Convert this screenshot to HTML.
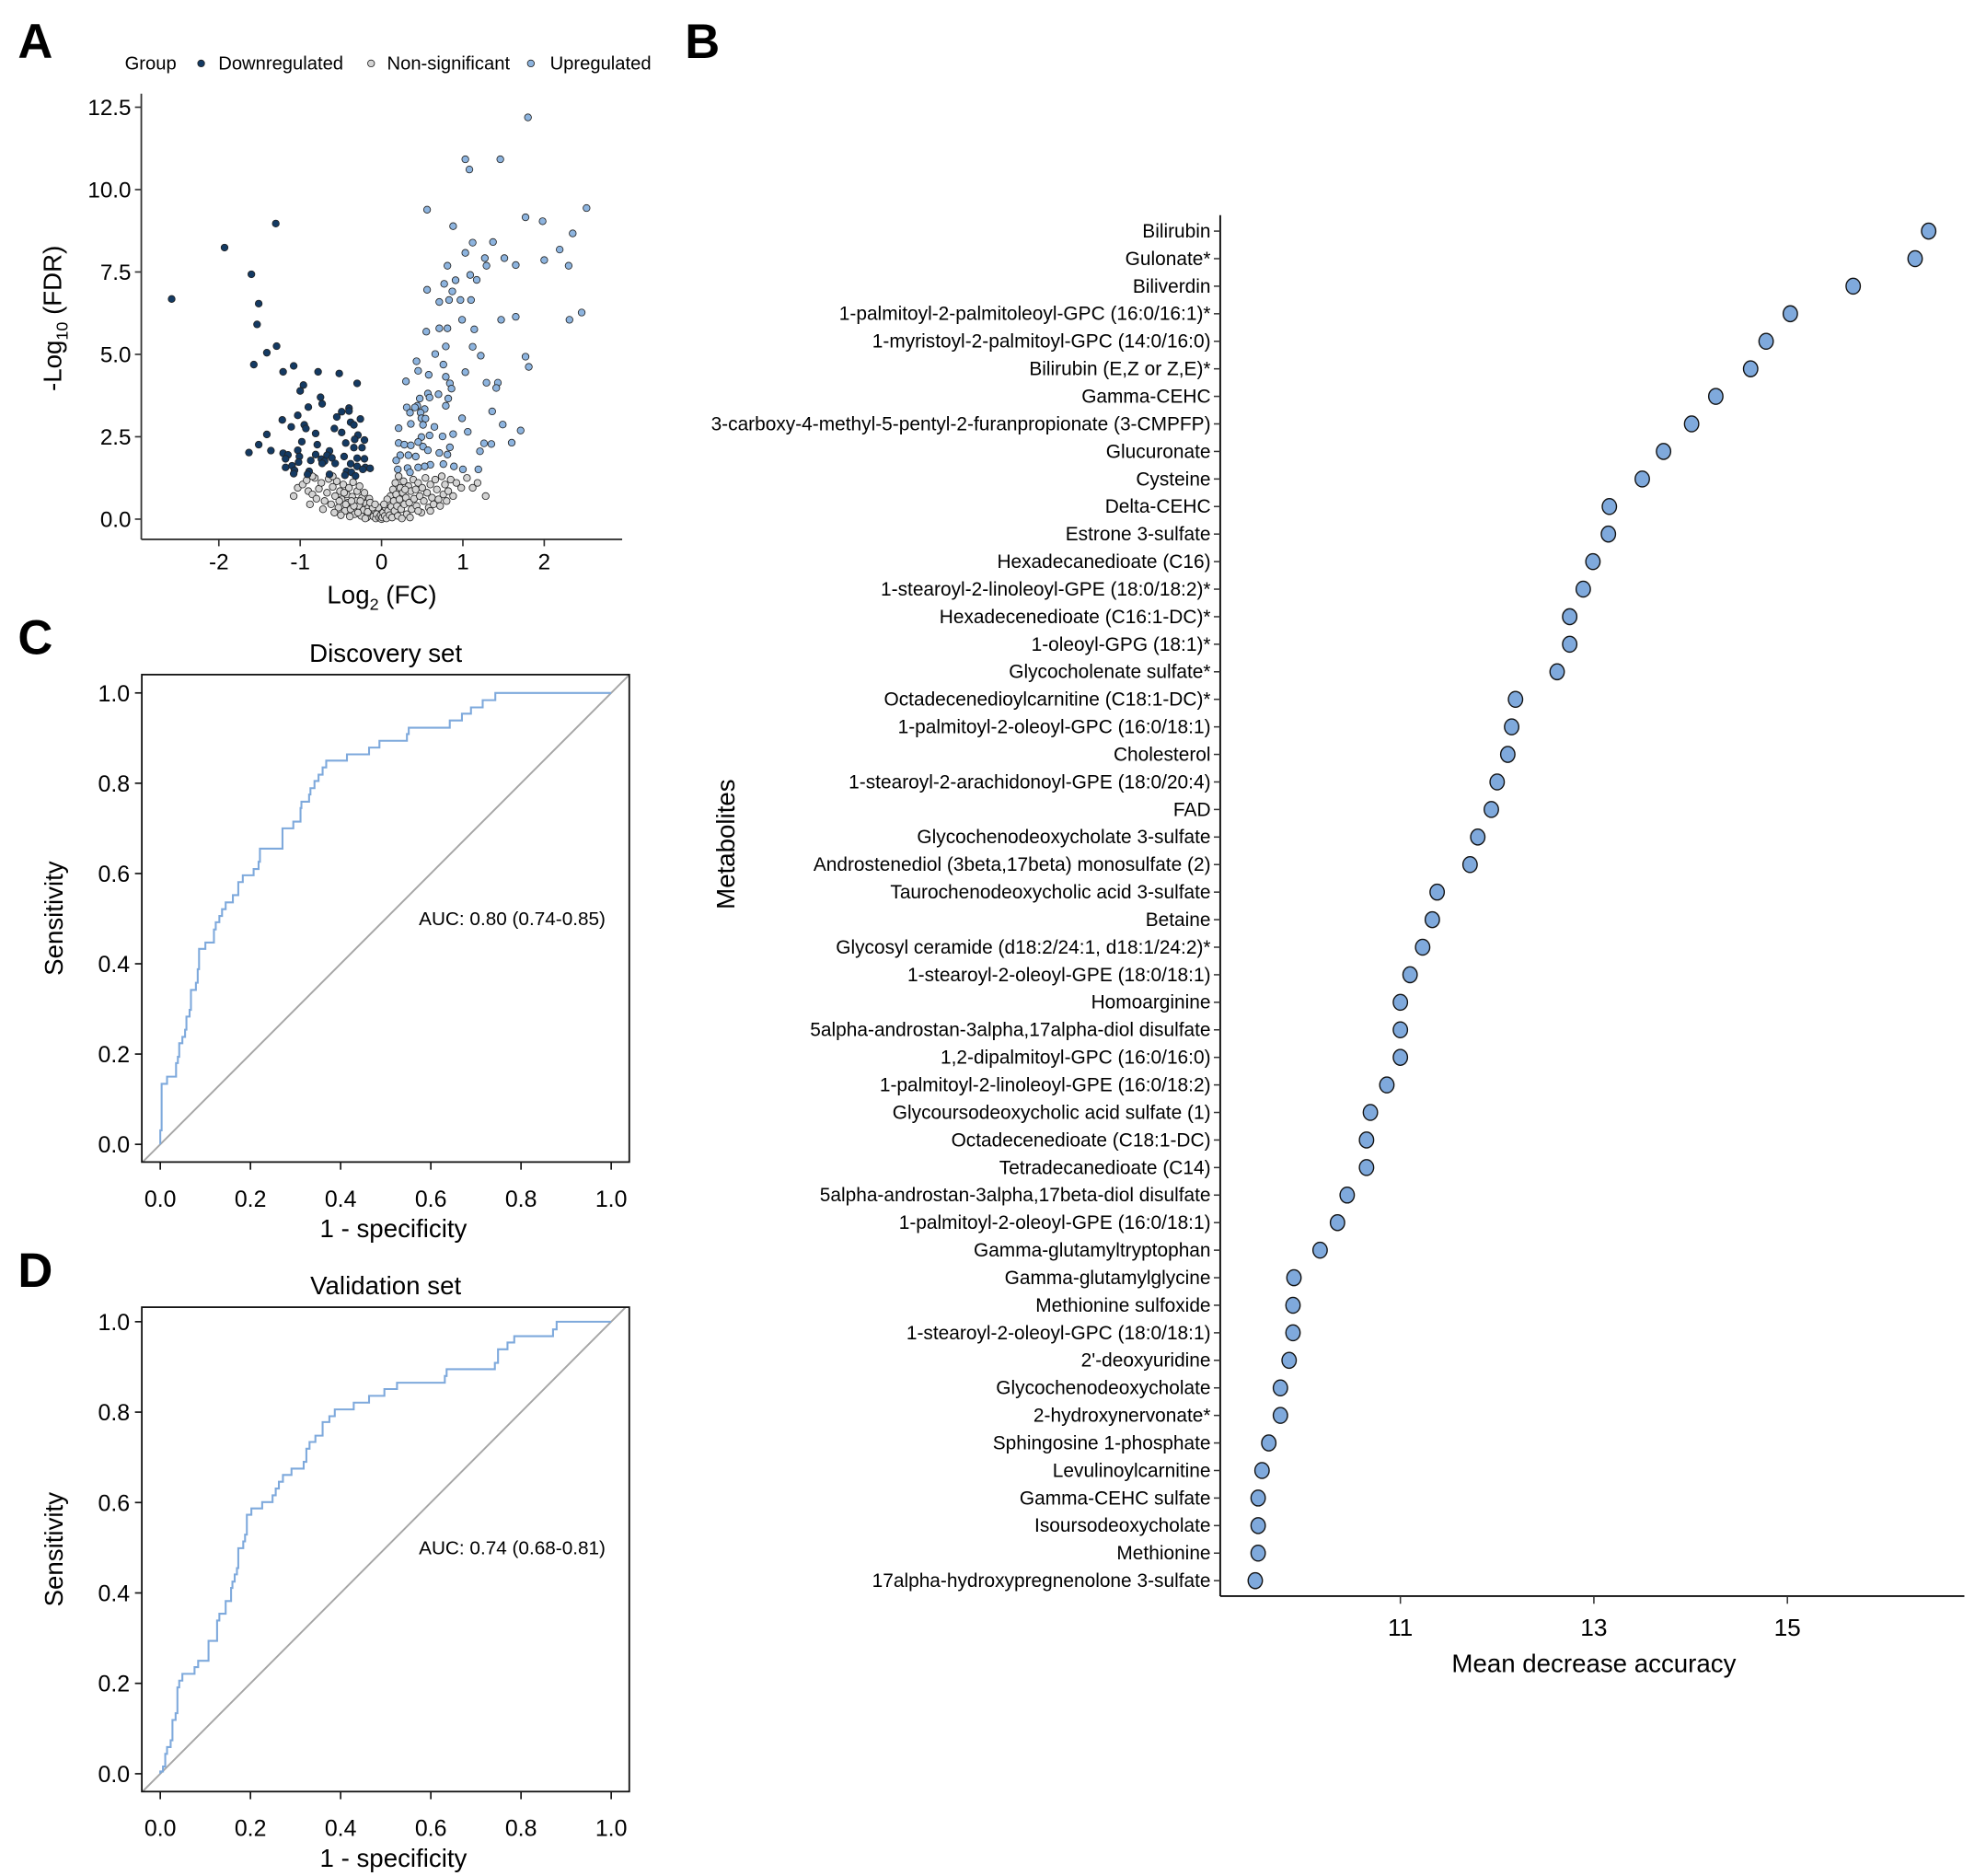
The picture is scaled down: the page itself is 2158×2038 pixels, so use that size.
<!DOCTYPE html>
<html><head><meta charset="utf-8"><style>
html,body{margin:0;padding:0;background:#fff;}
svg{display:block;font-family:"Liberation Sans",Arial,sans-serif;}
</style></head><body>
<svg id="fig" width="2158" height="2038" viewBox="0 0 1560 1473.3" preserveAspectRatio="none" xmlns="http://www.w3.org/2000/svg">
<rect width="1560" height="1473.3" fill="#fff"/>
<g id="pA"></g>
<g id="pB"></g>
<g id="pC"></g>
<g id="pD"></g>
</svg>
<script>
// ---------- Panel A data ----------
const upX=[1.80,1.03,1.08,1.46,0.56,2.52,1.77,1.98,0.88,2.35,1.12,1.37,1.03,2.19,1.27,1.51,2.00,0.81,1.29,1.65,2.30,1.09,1.17,0.91,0.77,0.56,0.87,0.83,0.97,1.10,0.71,2.46,1.65,1.47,0.99,2.31,0.71,0.81,1.14,0.55,0.79,1.12,0.66,1.22,1.77,0.43,1.81,0.76,0.45,1.03,0.58,0.79,0.30,1.29,1.43,0.84,1.41,0.86,0.57,0.70,0.59,0.47,0.82,0.79,0.44,0.31,0.41,0.53,1.36,0.35,0.48,0.49,0.99,0.54,0.36,0.51,0.65,0.21,1.49,1.06,1.71,0.59,0.49,0.75,0.88,0.45,1.26,1.35,1.60,0.21,0.28,0.36,0.51,0.84,0.57,1.21,0.81,0.71,0.33,0.23,0.42,0.60,0.76,0.53,0.89,1.00,1.19,0.18,0.32,0.45,0.20,0.35];
const upY=[12.19,10.92,10.61,10.92,9.39,9.44,9.16,9.04,8.89,8.67,8.39,8.41,8.08,8.18,7.92,7.92,7.86,7.69,7.69,7.71,7.69,7.41,7.26,7.25,7.14,6.96,6.91,6.65,6.65,6.65,6.59,6.27,6.14,6.05,6.05,6.05,5.79,5.79,5.76,5.69,5.24,5.23,5.01,4.96,4.93,4.79,4.62,4.69,4.50,4.46,4.38,4.32,4.18,4.14,4.14,4.12,3.98,3.96,3.81,3.79,3.69,3.66,3.66,3.44,3.44,3.39,3.39,3.34,3.27,3.23,3.23,3.06,3.06,3.05,2.89,2.86,2.80,2.76,2.87,2.65,2.69,2.54,2.49,2.51,2.58,2.34,2.30,2.28,2.32,2.31,2.26,2.24,2.20,2.18,2.09,2.06,1.96,2.01,1.94,1.94,1.90,1.65,1.67,1.60,1.60,1.51,1.51,1.78,1.55,1.57,1.51,1.42];
const downX=[-2.58,-1.93,-1.30,-1.60,-1.51,-1.53,-1.29,-1.41,-1.57,-1.08,-1.21,-0.78,-0.52,-0.30,-0.96,-1.00,-0.75,-0.73,-0.90,-0.40,-0.40,-0.49,-1.03,-0.55,-0.26,-1.22,-0.38,-0.95,-0.34,-1.11,-0.58,-0.93,-1.41,-0.81,-0.49,-0.29,-0.33,-0.21,-1.51,-0.98,-0.44,-0.79,-0.34,-0.24,-1.36,-1.03,-0.64,-1.63,-1.21,-1.15,-0.81,-0.67,-1.01,-0.46,-0.61,-0.30,-1.18,-0.74,-0.21,-0.87,-0.70,-1.02,-0.73,-0.57,-0.38,-1.10,-0.30,-1.18,-0.20,-0.14,-0.23,-1.07,-0.89,-0.43,-0.37,-0.91,-0.64,-0.45,-0.32,-1.08];
const downY=[6.68,8.24,8.97,7.43,6.54,5.91,5.25,5.05,4.69,4.65,4.47,4.47,4.42,4.12,4.07,3.89,3.70,3.50,3.40,3.37,3.28,3.26,3.15,3.10,3.04,3.01,2.94,2.86,2.86,2.80,2.75,2.75,2.57,2.60,2.63,2.55,2.42,2.40,2.26,2.35,2.31,2.26,2.17,2.17,2.08,2.09,2.07,2.02,2.00,1.95,1.96,1.94,1.90,1.90,1.86,1.85,1.83,1.82,1.83,1.78,1.76,1.73,1.69,1.69,1.68,1.62,1.60,1.57,1.57,1.54,1.51,1.48,1.45,1.45,1.42,1.36,1.36,1.33,1.31,1.38];
const nsX=[-1.03,-0.97,-0.92,-0.90,-0.85,-0.82,-0.80,-0.77,-0.74,-0.70,-0.67,-0.65,-0.62,-0.60,-0.57,-0.55,-0.53,-0.51,-0.49,-0.47,-0.45,-0.43,-0.41,-0.40,-0.38,-0.36,-0.35,-0.33,-0.31,-0.30,-0.28,-0.27,-0.25,-0.24,-0.22,-0.21,-0.19,-0.18,-0.16,-0.15,-0.13,-0.12,-0.10,-0.09,-0.07,-0.06,-0.04,-0.03,-0.01,0.0,-1.08,-0.88,-0.72,-0.58,-0.50,-0.44,-0.39,-0.34,-0.29,-0.20,-0.17,-0.11,-0.85,-0.60,-0.52,-0.46,-0.37,-0.26,-0.14,-0.08,0.01,0.02,0.04,0.05,0.06,0.08,0.09,0.10,0.11,0.12,0.13,0.14,0.15,0.16,0.17,0.18,0.19,0.20,0.21,0.22,0.23,0.24,0.26,0.27,0.28,0.30,0.31,0.33,0.34,0.36,0.37,0.39,0.40,0.42,0.43,0.45,0.47,0.49,0.50,0.52,0.54,0.56,0.58,0.60,0.62,0.64,0.66,0.68,0.70,0.72,0.74,0.76,0.78,0.80,0.82,0.85,0.88,0.92,0.98,1.05,1.12,1.18,1.28,0.60,0.35,0.25,0.45,0.29,0.07,0.03];
const nsY=[0.95,1.05,1.18,0.85,0.75,1.25,0.62,0.92,1.10,0.55,0.80,1.22,0.45,0.98,0.70,1.15,0.35,0.85,0.60,1.05,0.25,0.75,0.50,0.95,0.30,0.68,1.12,0.15,0.55,0.85,0.40,1.00,0.10,0.65,0.28,0.80,0.48,0.05,0.35,0.62,0.18,0.45,0.08,0.28,0.02,0.15,0.35,0.05,0.12,0.0,0.70,0.45,0.30,0.20,0.12,0.45,0.08,0.40,0.20,0.02,0.22,0.35,1.30,1.30,0.55,0.80,0.55,0.55,0.50,0.45,0.05,0.20,0.10,0.35,0.02,0.25,0.50,0.12,0.70,0.38,0.05,0.90,0.55,0.25,1.10,0.75,0.40,0.10,1.30,0.60,0.95,0.30,0.80,1.15,0.45,0.65,0.15,1.00,0.50,0.85,0.30,1.20,0.62,0.90,0.40,1.10,0.70,0.20,0.95,0.55,1.25,0.80,0.35,1.05,0.65,0.45,1.20,0.90,0.60,0.40,1.30,0.75,1.05,0.55,0.85,1.20,0.70,1.10,0.95,1.25,0.95,1.10,0.70,0.25,0.05,0.02,0.25,0.90,0.60,0.45];
const volXTicks=[-2,-1,0,1,2];
const volYTicks=[0,2.5,5,7.5,10,12.5];
const volYTickLabels=["0.0","2.5","5.0","7.5","10.0","12.5"];

// ---------- Panel B data ----------
const metabolites=["Bilirubin","Gulonate*","Biliverdin","1-palmitoyl-2-palmitoleoyl-GPC (16:0/16:1)*","1-myristoyl-2-palmitoyl-GPC (14:0/16:0)","Bilirubin (E,Z or Z,E)*","Gamma-CEHC","3-carboxy-4-methyl-5-pentyl-2-furanpropionate (3-CMPFP)","Glucuronate","Cysteine","Delta-CEHC","Estrone 3-sulfate","Hexadecanedioate (C16)","1-stearoyl-2-linoleoyl-GPE (18:0/18:2)*","Hexadecenedioate (C16:1-DC)*","1-oleoyl-GPG (18:1)*","Glycocholenate sulfate*","Octadecenedioylcarnitine (C18:1-DC)*","1-palmitoyl-2-oleoyl-GPC (16:0/18:1)","Cholesterol","1-stearoyl-2-arachidonoyl-GPE (18:0/20:4)","FAD","Glycochenodeoxycholate 3-sulfate","Androstenediol (3beta,17beta) monosulfate (2)","Taurochenodeoxycholic acid 3-sulfate","Betaine","Glycosyl ceramide (d18:2/24:1, d18:1/24:2)*","1-stearoyl-2-oleoyl-GPE (18:0/18:1)","Homoarginine","5alpha-androstan-3alpha,17alpha-diol disulfate","1,2-dipalmitoyl-GPC (16:0/16:0)","1-palmitoyl-2-linoleoyl-GPE (16:0/18:2)","Glycoursodeoxycholic acid sulfate (1)","Octadecenedioate (C18:1-DC)","Tetradecanedioate (C14)","5alpha-androstan-3alpha,17beta-diol disulfate","1-palmitoyl-2-oleoyl-GPE (16:0/18:1)","Gamma-glutamyltryptophan","Gamma-glutamylglycine","Methionine sulfoxide","1-stearoyl-2-oleoyl-GPC (18:0/18:1)","2'-deoxyuridine","Glycochenodeoxycholate","2-hydroxynervonate*","Sphingosine 1-phosphate","Levulinoylcarnitine","Gamma-CEHC sulfate","Isoursodeoxycholate","Methionine","17alpha-hydroxypregnenolone 3-sulfate"];
const mda=[16.46,16.32,15.68,15.03,14.78,14.62,14.26,14.01,13.72,13.50,13.16,13.15,12.99,12.89,12.75,12.75,12.62,12.19,12.15,12.11,12.00,11.94,11.80,11.72,11.38,11.33,11.23,11.10,11.00,11.00,11.00,10.86,10.69,10.65,10.65,10.45,10.35,10.17,9.90,9.89,9.89,9.85,9.76,9.76,9.64,9.57,9.53,9.53,9.53,9.50];
const mdaTicks=[11,13,15];

// ---------- Panel C/D data (ROC step vertices) ----------
const fprC=[0,0.003,0.015,0.035,0.039,0.042,0.049,0.055,0.058,0.065,0.068,0.079,0.083,0.086,0.100,0.119,0.123,0.131,0.137,0.145,0.161,0.173,0.183,0.207,0.218,0.221,0.271,0.295,0.311,0.313,0.330,0.333,0.342,0.351,0.360,0.368,0.414,0.463,0.486,0.547,0.551,0.642,0.669,0.689,0.715,0.743,1.0];
const tprC=[0.031,0.134,0.150,0.180,0.194,0.224,0.238,0.254,0.283,0.298,0.342,0.358,0.388,0.433,0.447,0.476,0.492,0.506,0.521,0.536,0.552,0.581,0.596,0.610,0.626,0.655,0.700,0.715,0.745,0.759,0.775,0.789,0.805,0.819,0.835,0.850,0.864,0.879,0.894,0.909,0.923,0.939,0.954,0.968,0.984,1.0,1.0];
const fprD=[0,0.006,0.011,0.015,0.023,0.027,0.034,0.038,0.042,0.049,0.076,0.084,0.107,0.126,0.131,0.145,0.157,0.160,0.165,0.170,0.173,0.184,0.188,0.192,0.202,0.226,0.249,0.256,0.263,0.272,0.291,0.318,0.324,0.331,0.344,0.360,0.375,0.387,0.429,0.463,0.497,0.525,0.631,0.635,0.742,0.749,0.770,0.785,0.871,0.879,1.0];
const tprD=[0.005,0.016,0.044,0.059,0.074,0.119,0.134,0.191,0.206,0.221,0.236,0.250,0.294,0.339,0.354,0.382,0.411,0.425,0.441,0.455,0.499,0.514,0.529,0.573,0.587,0.601,0.616,0.631,0.646,0.661,0.675,0.690,0.719,0.734,0.748,0.778,0.791,0.806,0.821,0.836,0.851,0.865,0.880,0.895,0.909,0.939,0.954,0.968,0.983,1.0,1.0];
const rocTicks=[0,0.2,0.4,0.6,0.8,1.0];
const rocTickLabels=["0.0","0.2","0.4","0.6","0.8","1.0"];

const NS="http://www.w3.org/2000/svg";
function mk(parent,tag,attrs,text){const e=document.createElementNS(NS,tag);for(const k in attrs)e.setAttribute(k,attrs[k]);if(text!==undefined)e.textContent=text;parent.appendChild(e);return e;}

// ===== Panel A =====
(function(){
const g=document.getElementById('pA');
const X=v=>299.7+v*63.9, Y=v=>407.7-v*25.88;
let t;
t=mk(g,'text',{x:14,y:45.5,'font-size':38,'font-weight':'bold'},'A');

t=mk(g,'text',{x:98,y:54.5,'font-size':14.6},'Group');

const leg=[[158,'#143a63','Downregulated',171.5],[291.5,'#d4d4d4','Non-significant',304],[417,'#8db4df','Upregulated',432]];
leg.forEach((l,i)=>{const lg=mk(g,'g',{});


mk(lg,'circle',{cx:l[0],cy:49.8,r:2.7,fill:l[1],stroke:'#222','stroke-width':0.6});
mk(lg,'text',{x:l[3],y:54.5,'font-size':14.6},l[2]);});
let a=mk(g,'line',{x1:111,y1:73.6,x2:111,y2:423.6,stroke:'#333','stroke-width':1.3});

a=mk(g,'line',{x1:111,y1:423.6,x2:488.7,y2:423.6,stroke:'#333','stroke-width':1.3});

volYTicks.forEach((v,i)=>{mk(g,'line',{x1:106,x2:111,y1:Y(v),y2:Y(v),stroke:'#333','stroke-width':1.2});
const tx=mk(g,'text',{x:103,y:Y(v)+6,'font-size':17.5,'text-anchor':'end'},volYTickLabels[i]);
});
volXTicks.forEach(v=>{mk(g,'line',{x1:X(v),x2:X(v),y1:423.6,y2:429,stroke:'#333','stroke-width':1.2});
const tx=mk(g,'text',{x:X(v),y:447,'font-size':17.5,'text-anchor':'middle'},v<0?'-'+Math.abs(v):String(v));
});
t=mk(g,'text',{x:300,y:474,'font-size':20,'text-anchor':'middle'});

t.innerHTML='Log<tspan font-size="13" dy="5">2</tspan><tspan dy="-5"> (FC)</tspan>';
t=mk(g,'text',{transform:'translate(48,250) rotate(-90)','font-size':20,'text-anchor':'middle'});

t.innerHTML='-Log<tspan font-size="13" dy="5">10</tspan><tspan dy="-5"> (FDR)</tspan>';
function pts(xs,ys,fill,name){const pg=mk(g,'g',{});

xs.forEach((x,i)=>{const c=mk(pg,'circle',{cx:X(x),cy:Y(ys[i]),r:2.7,fill:fill,stroke:'#222','stroke-width':0.6});

});}
pts(nsX,nsY,'#d4d4d4','nonsignificant-points');
pts(downX,downY,'#143a63','downregulated-points');
pts(upX,upY,'#8db4df','upregulated-points');
})();

// ===== Panel B =====
(function(){
const g=document.getElementById('pB');
const X=v=>1100+(v-11)*76.0, Y=i=>181.5+i*21.63;
let t=mk(g,'text',{x:538,y:45.5,'font-size':38,'font-weight':'bold'},'B');

let a=mk(g,'line',{x1:958.5,y1:169,x2:958.5,y2:1253.5,stroke:'#111','stroke-width':1.4});

a=mk(g,'line',{x1:958.5,y1:1253.5,x2:1543,y2:1253.5,stroke:'#111','stroke-width':1.4});

metabolites.forEach((m,i)=>{mk(g,'line',{x1:953.5,x2:958.5,y1:Y(i),y2:Y(i),stroke:'#333','stroke-width':1.1});
const tx=mk(g,'text',{x:951,y:Y(i)+5,'font-size':15.1,'text-anchor':'end'},m);

const c=mk(g,'ellipse',{cx:X(mda[i]),cy:Y(i),rx:5.6,ry:6.2,fill:'#7fa9dc',stroke:'#111','stroke-width':1});

});
mdaTicks.forEach(v=>{mk(g,'line',{x1:X(v),x2:X(v),y1:1253.5,y2:1259.5,stroke:'#333','stroke-width':1.1});
const tx=mk(g,'text',{x:X(v),y:1284.5,'font-size':19,'text-anchor':'middle'},String(v));
});
t=mk(g,'text',{x:1252,y:1313,'font-size':20,'text-anchor':'middle'},'Mean decrease accuracy');

t=mk(g,'text',{transform:'translate(577,663) rotate(-90)','font-size':20,'text-anchor':'middle'},'Metabolites');

})();

// ===== ROC panels =====
function roc(id,letter,title,auc,fpr,tpr,top,bottom,y0,y1){
const g=document.getElementById(id);
const X=v=>125.9+v*354.2, Y=v=>y0-v*(y0-y1);
let t=mk(g,'text',{x:14,y:top-16,'font-size':38,'font-weight':'bold'},letter);

t=mk(g,'text',{x:303,y:top-10,'font-size':20,'text-anchor':'middle'},title);

const cp='clip'+id;const d=mk(g,'defs',{});const cl=mk(d,'clipPath',{id:cp});
mk(cl,'rect',{x:111.4,y:top,width:494.3-111.4,height:bottom-top});
const px0=111.4,px1=494.3;
const v0=(px0-125.9)/354.2,v1=(px1-125.9)/354.2;
let l=mk(g,'line',{x1:X(v0),y1:Y(v0),x2:X(v1),y2:Y(v1),stroke:'#a6a6a6','stroke-width':1.4,'clip-path':'url(#'+cp+')'});

let dstr='M'+X(0)+','+Y(0);
for(let i=0;i<fpr.length;i++){dstr+=' L'+X(fpr[i])+','+Y(i===0?0:tpr[i-1]);dstr+=' L'+X(fpr[i])+','+Y(tpr[i]);}
l=mk(g,'path',{d:dstr,fill:'none',stroke:'#7ea9dc','stroke-width':1.5});

l=mk(g,'rect',{x:111.4,y:top,width:494.3-111.4,height:bottom-top,fill:'none',stroke:'#111','stroke-width':1.3});

rocTicks.forEach((v,i)=>{mk(g,'line',{x1:106,x2:111.4,y1:Y(v),y2:Y(v),stroke:'#111','stroke-width':1.2});
let tx=mk(g,'text',{x:102,y:Y(v)+6.5,'font-size':18,'text-anchor':'end'},rocTickLabels[i]);

mk(g,'line',{x1:X(v),x2:X(v),y1:bottom,y2:bottom+6,stroke:'#111','stroke-width':1.2});
tx=mk(g,'text',{x:X(v),y:bottom+35,'font-size':18,'text-anchor':'middle'},rocTickLabels[i]);
});
t=mk(g,'text',{x:309,y:bottom+59,'font-size':20,'text-anchor':'middle'},'1 - specificity');

t=mk(g,'text',{transform:'translate(49,'+((top+bottom)/2)+') rotate(-90)','font-size':20,'text-anchor':'middle'},'Sensitivity');

t=mk(g,'text',{x:329,y:Y(0.5)+5,'font-size':15},auc);

}
roc('pC','C','Discovery set','AUC: 0.80 (0.74-0.85)',fprC,tprC,529.8,912.6,898.7,544.2);
roc('pD','D','Validation set','AUC: 0.74 (0.68-0.81)',fprD,tprD,1026.6,1407,1393,1038);
</script>
</body></html>
